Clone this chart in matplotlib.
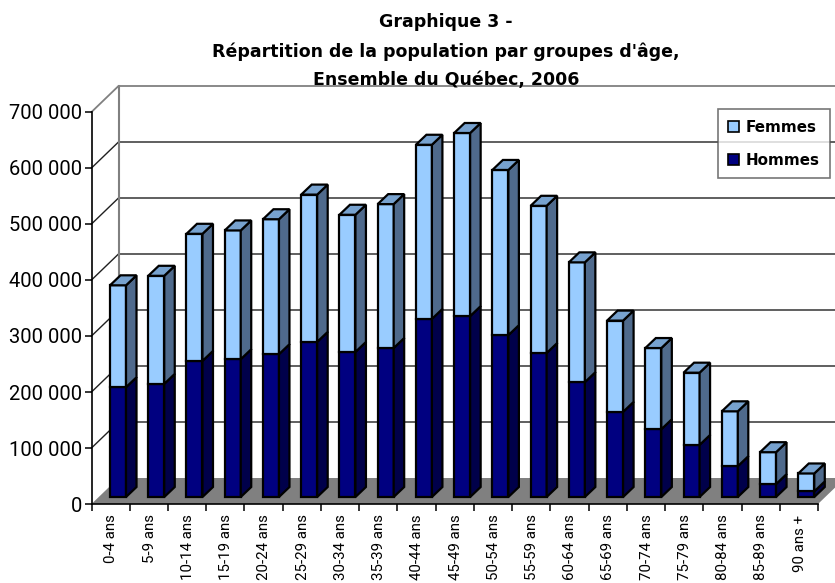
import matplotlib
matplotlib.use("Agg")
import matplotlib.pyplot as plt
from matplotlib.patches import Polygon, Patch

categories = ["0-4 ans", "5-9 ans", "10-14 ans", "15-19 ans", "20-24 ans", "25-29 ans", "30-34 ans",
              "35-39 ans", "40-44 ans", "45-49 ans", "50-54 ans", "55-59 ans", "60-64 ans", "65-69 ans",
              "70-74 ans", "75-79 ans", "80-84 ans", "85-89 ans", "90 ans +"]
hommes = [196000, 202000, 243000, 246000, 255000, 277000, 259000, 266000, 318000, 323000,
          289000, 257000, 205000, 152000, 121000, 93000, 55000, 23000, 10000]
femmes = [182000, 193000, 227000, 230000, 241000, 263000, 245000, 257000, 311000, 327000,
          295000, 263000, 214000, 163000, 145000, 129000, 98000, 57000, 32000]
yticks = [0, 100000, 200000, 300000, 400000, 500000, 600000, 700000]
ylabels = ["0", "100 000", "200 000", "300 000", "400 000", "500 000", "600 000", "700 000"]
title_lines = ["Graphique 3 -", "Répartition de la population par groupes d'âge,", "Ensemble du Québec, 2006"]

W, H = 835, 583
fig = plt.figure(figsize=(W / 100, H / 100), dpi=100, facecolor="white")
L, R, T, B = 91.5, 818, 112, 504
ax = fig.add_axes([L / W, 1 - B / H, (R - L) / W, (B - T) / H])
ax.set_xlim(0, 19)
ax.set_ylim(0, 700000)
ax.patch.set_visible(False)

px_x = 19 / (R - L)
px_y = 700000 / (B - T)
DX, DY = 27 * px_x, 26 * px_y          # wall depth
BAR_X, BAR_Y = 7.4 * px_x, 7 * px_y    # bar offset on floor
SX, SY = 10.5 * px_x, 10 * px_y        # bar depth
BW = 16 * px_x

FONT = "Roboto"
GREY = "#808080"

def poly(pts, **kw):
    ax.add_patch(Polygon(pts, closed=True, clip_on=False, **kw))

# floor
poly([(0, 0), (DX, DY), (19 + DX, DY), (19, 0)], facecolor=GREY, edgecolor="none", zorder=1)
# gridlines and walls
for v in yticks[1:]:
    col = GREY if v == 700000 else "#202020"
    ax.plot([0, DX, 19 + DX], [v, v + DY, v + DY], color=col, lw=1.0 if v < 700000 else 1.3,
            clip_on=False, zorder=1.5, solid_joinstyle="miter")
ax.plot([DX, DX], [DY, 700000 + DY], color=GREY, lw=1.5, clip_on=False, zorder=1.5)

HM, HM_S = "#000080", "#00004a"
FM, FM_S, FM_T = "#99ccff", "#4f6a8c", "#77a2cf"
EC = "black"
LW = 1.6
for i, (h, f) in enumerate(zip(hommes, femmes)):
    x0 = i + 0.5 + BAR_X - BW / 2
    x1 = x0 + BW
    y0 = BAR_Y
    y1 = y0 + h
    y2 = y1 + f
    ax.bar(x0 + BW / 2, h, BW, bottom=y0, color=HM, edgecolor=EC, lw=LW, zorder=3, clip_on=False)
    ax.bar(x0 + BW / 2, f, BW, bottom=y1, color=FM, edgecolor=EC, lw=LW, zorder=3, clip_on=False)
    poly([(x1, y0), (x1 + SX, y0 + SY), (x1 + SX, y1 + SY), (x1, y1)], facecolor=HM_S, edgecolor=EC, lw=LW, zorder=3)
    poly([(x1, y1), (x1 + SX, y1 + SY), (x1 + SX, y2 + SY), (x1, y2)], facecolor=FM_S, edgecolor=EC, lw=LW, zorder=3)
    poly([(x0, y2), (x0 + SX, y2 + SY), (x1 + SX, y2 + SY), (x1, y2)], facecolor=FM_T, edgecolor=EC, lw=LW, zorder=3)

for s in ("top", "right"):
    ax.spines[s].set_visible(False)
for s in ("left", "bottom"):
    ax.spines[s].set_linewidth(1.2)
    ax.spines[s].set_zorder(2)

ax.set_yticks(yticks)
ax.set_yticklabels(ylabels, fontsize=14.5, family=FONT)
ax.set_xticks(range(20))
ax.set_xticklabels([""] * 20)
ax.tick_params(axis="both", length=5.2, width=1.1, color="black")
ax.tick_params(axis="y", pad=1.5)
for i, c in enumerate(categories):
    ax.annotate(c, xy=(i + 0.52, 0), xycoords="data", xytext=(0, -7.5), textcoords="offset points",
                rotation=90, ha="center", va="top", fontsize=10.8, family=FONT, annotation_clip=False)

for s, yp in zip(title_lines, (22, 52, 80)):
    fig.text(446 / W, 1 - yp / H, s, ha="center", va="center", fontsize=12.5,
             fontweight="bold", family="DejaVu Sans")

handles = [Patch(facecolor=FM, edgecolor="black", lw=1.2, label="Femmes"),
           Patch(facecolor=HM, edgecolor="black", lw=1.2, label="Hommes")]
leg = fig.legend(handles=handles, loc="upper left", bbox_to_anchor=(717.5 / W, 1 - 109 / H),
                 bbox_transform=fig.transFigure, borderaxespad=0, frameon=True, fancybox=False,
                 handlelength=0.72, handleheight=0.72, handletextpad=0.45, labelspacing=1.2,
                 borderpad=0.7, prop={"family": "DejaVu Sans", "weight": "bold", "size": 10.9})
leg.get_frame().set_edgecolor("#555555")
leg.get_frame().set_linewidth(1.2)
leg.set_zorder(10)

fig.savefig("out.png", dpi=100)
